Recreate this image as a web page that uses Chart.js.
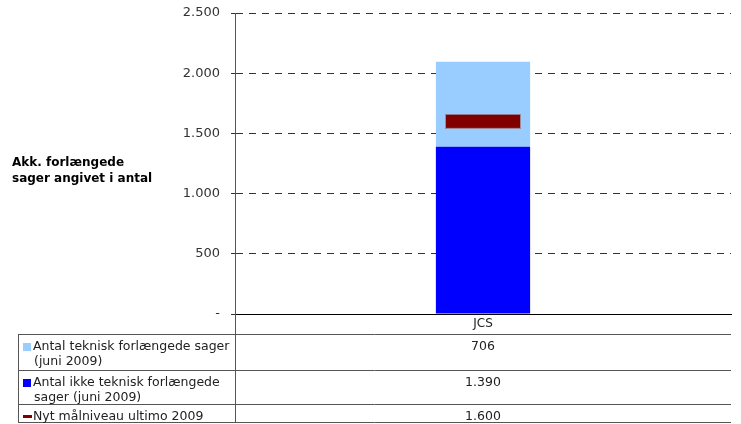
<!DOCTYPE html>
<html>
<head>
<meta charset="utf-8">
<script src="https://cdn.jsdelivr.net/npm/chart.js@4.4.0/dist/chart.umd.min.js"></script>
<style>
  html, body { margin: 0; padding: 0; background: #fff; }
  #wrap { width: 741px; height: 424px; }
</style>
</head>
<body>
<div id="wrap"><canvas id="chart" width="741" height="424"></canvas></div>
<script>
// Data
const categories = ['JCS'];
const teknisk = [706];        // Antal teknisk forlængede sager (juni 2009)
const ikkeTeknisk = [1390];   // Antal ikke teknisk forlængede sager (juni 2009)
const maalniveau = [1600];    // Nyt målniveau ultimo 2009
const yTicks = [0, 500, 1000, 1500, 2000, 2500];

const seriesLabels = [
    ['Antal teknisk forlængede sager', '(juni 2009)'],
    ['Antal ikke teknisk forlængede', 'sager (juni 2009)'],
    ['Nyt målniveau ultimo 2009']
];
const axisTitle = ['Akk. forlængede', 'sager angivet i antal'];

const colLight = '#99ccff';
const colBlue = '#0000ff';
const colRed = '#800000';

function fmt(v) {
    if (v === 0) return '-';
    return String(v).replace(/\B(?=(\d{3})+(?!\d))/g, '.');
}

// marker for the target level (a flat dark red block)
const marker = document.createElement('canvas');
marker.width = 76;
marker.height = 15;
const mctx = marker.getContext('2d');
mctx.fillStyle = '#9a8a9a';
mctx.fillRect(0, 0, 76, 15);
mctx.fillStyle = colRed;
mctx.fillRect(1, 1, 74, 13);

// draws the axis title and the data table below the plot
const tablePlugin = {
    id: 'tablePlugin',
    afterDraw(chart) {
        const ctx = chart.ctx;
        const area = chart.chartArea;
        const xs = chart.scales.x;
        const colX = xs.getPixelForValue(0);
        const left = 18;
        const divX = area.left;
        const right = area.right;
        const rows = [334, 370, 404, 422];

        ctx.save();
        // axis title
        ctx.fillStyle = '#000';
        ctx.font = 'bold 12px "DejaVu Sans", Verdana, sans-serif';
        ctx.textAlign = 'left';
        ctx.textBaseline = 'middle';
        const midY = (area.top + area.bottom) / 2;
        ctx.fillText(axisTitle[0], 12, midY - 1);
        ctx.fillText(axisTitle[1], 12, midY + 15);

        // table lines
        ctx.strokeStyle = '#555';
        ctx.lineWidth = 1;
        ctx.beginPath();
        ctx.moveTo(divX + 0.5, area.bottom);
        ctx.lineTo(divX + 0.5, rows[3]);
        ctx.moveTo(left + 0.5, rows[0]);
        ctx.lineTo(left + 0.5, rows[3]);
        for (let i = 0; i < rows.length; i++) {
            ctx.moveTo(left, rows[i] + 0.5);
            ctx.lineTo(right, rows[i] + 0.5);
        }
        ctx.stroke();

        // table text
        ctx.font = '12.5px "DejaVu Sans", Verdana, sans-serif';
        ctx.fillStyle = '#222';
        const values = [teknisk[0], ikkeTeknisk[0], maalniveau[0]];
        const swatch = [colLight, colBlue, colRed];
        for (let r = 0; r < 3; r++) {
            const top = rows[r];
            const y1 = top + 13;
            // legend key
            ctx.fillStyle = swatch[r];
            if (r < 2) {
                ctx.fillRect(23, y1 - 4, 8, 8);
            } else {
                ctx.fillRect(23, y1 - 2, 9, 3);
            }
            ctx.fillStyle = '#222';
            ctx.textAlign = 'left';
            ctx.fillText(seriesLabels[r][0], 33, y1);
            if (seriesLabels[r][1]) ctx.fillText(seriesLabels[r][1], 34, y1 + 15);
            ctx.textAlign = 'center';
            ctx.fillText(fmt(values[r]), colX, y1);
        }
        ctx.restore();
    }
};

const ctx = document.getElementById('chart').getContext('2d');
const chart = new Chart(ctx, {
    type: 'bar',
    data: {
        labels: categories,
        datasets: [
            {
                type: 'line',
                label: seriesLabels[2].join(' '),
                data: maalniveau,
                stack: 'target',
                showLine: false,
                pointStyle: marker,
                order: 0
            },
            {
                label: seriesLabels[1].join(' '),
                data: ikkeTeknisk,
                backgroundColor: colBlue,
                stack: 'sager',
                order: 1
            },
            {
                label: seriesLabels[0].join(' '),
                data: teknisk,
                backgroundColor: colLight,
                stack: 'sager',
                order: 1
            }
        ]
    },
    options: {
        responsive: false,
        animation: false,
        events: [],
        layout: { padding: { left: 0, right: 10, top: 13, bottom: 0 } },
        datasets: {
            bar: { categoryPercentage: 1, barPercentage: 0.19 }
        },
        plugins: {
            legend: { display: false },
            tooltip: { enabled: false }
        },
        scales: {
            x: {
                stacked: true,
                grid: { display: false, drawTicks: false },
                border: { display: true, color: '#000', width: 1 },
                ticks: {
                    color: '#222',
                    padding: 3,
                    font: { family: '"DejaVu Sans", Verdana, sans-serif', size: 12 }
                },
                afterFit(scale) { scale.height = 110; }
            },
            y: {
                stacked: true,
                min: 0,
                max: 2500,
                afterBuildTicks(scale) {
                    scale.ticks = yTicks.map(v => ({ value: v }));
                },
                afterFit(scale) {
                    scale.width = 235;
                    scale.paddingTop = 0;
                    scale.paddingBottom = 0;
                },
                grid: {
                    color: '#333',
                    tickLength: 4,
                    tickColor: '#333',
                    tickBorderDash: []
                },
                border: { display: true, color: '#555', width: 1, dash: [7, 6] },
                ticks: {
                    color: '#333',
                    padding: 11,
                    font: { family: '"DejaVu Sans", Verdana, sans-serif', size: 13 },
                    callback: v => fmt(v)
                }
            }
        }
    },
    plugins: [tablePlugin]
});
</script>
</body>
</html>
